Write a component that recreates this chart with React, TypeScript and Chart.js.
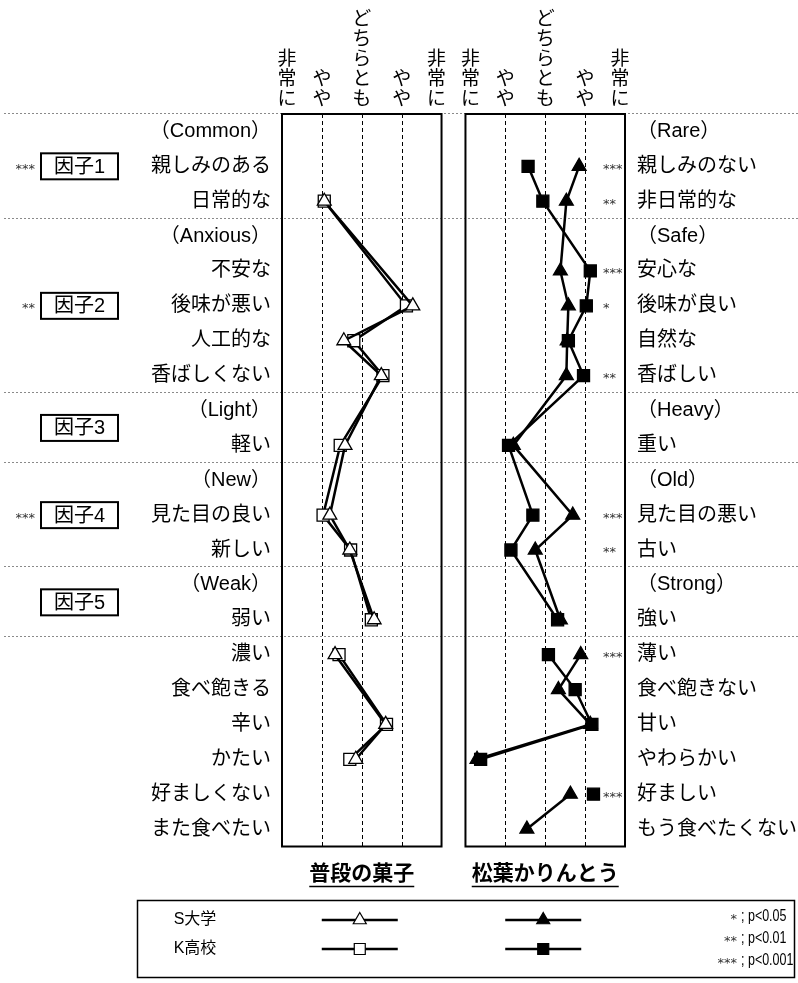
import React, { useEffect, useRef } from 'react';
import { Chart, registerables } from 'chart.js';

Chart.register(...registerables);

// ---------- data ----------
const leftLabels = [
  '（Common）', '親しみのある', '日常的な',
  '（Anxious）', '不安な', '後味が悪い', '人工的な', '香ばしくない',
  '（Light）', '軽い',
  '（New）', '見た目の良い', '新しい',
  '（Weak）', '弱い',
  '濃い', '食べ飽きる', '辛い', 'かたい', '好ましくない', 'また食べたい',
];
const rightLabels = [
  '（Rare）', '親しみのない', '非日常的な',
  '（Safe）', '安心な', '後味が良い', '自然な', '香ばしい',
  '（Heavy）', '重い',
  '（Old）', '見た目の悪い', '古い',
  '（Strong）', '強い',
  '薄い', '食べ飽きない', '甘い', 'やわらかい', '好ましい', 'もう食べたくない',
];

// 普段の菓子 (usual snacks)
const usualS = [null, null, 2.06, null, null, 4.28, 2.55, 3.49, null, 2.58, null, 2.2, 2.7, null, 3.31, 2.33, null, 3.6, 2.85, null, null];
const usualK = [null, null, 2.06, null, null, 4.12, 2.8, 3.53, null, 2.46, null, 2.03, 2.72, null, 3.24, 2.43, null, 3.62, 2.7, null, null];
// 松葉かりんとう
const matsubaS = [null, 3.85, 3.53, null, 3.38, 3.58, 3.55, 3.53, null, 2.2, null, 3.69, 2.75, null, 3.38, 3.89, 3.33, 4.13, 1.29, 3.63, 2.54];
const matsubaK = [null, 2.57, 2.94, null, 4.13, 4.03, 3.58, 3.96, null, 2.08, null, 2.69, 2.14, null, 3.31, 3.08, 3.75, 4.17, 1.38, 4.21, null];

// which rows are joined by a line
const lineBlocks = [0, 0, 0, 0, 0, 0, 0, 0, 0, 0, 0, 0, 0, 0, 0, 1, 1, 1, 1, 2, 2];
const rightSig = ['', '***', '**', '', '***', '*', '', '**', '', '', '', '***', '**', '', '', '***', '', '', '', '***', ''];

const factorNames = ['因子1', '因子2', '因子3', '因子4', '因子5'];
const factorSig = ['***', '**', '', '***', ''];
const factorRows = [1, 5, 8.5, 11, 13.5];
const separatorRows = [-0.5, 2.5, 7.5, 9.5, 12.5, 14.5];

const scalePoints = [1, 2, 3, 4, 5];
const scaleHeads = ['非常に', 'やや', 'どちらとも', 'やや', '非常に'];
const panelTitles = ['普段の菓子', '松葉かりんとう'];
const groupNames = ['S大学', 'K高校'];
const pStars = ['*', '**', '***'];
const pTexts = ['; p<0.05', '; p<0.01', '; p<0.001'];

// ---------- layout ----------
const W = 798;
const H = 983;
const FONT = "'Liberation Sans', 'Noto Sans CJK JP', sans-serif";
const PANEL_GAP = 0.6;

function drawStars(ctx: CanvasRenderingContext2D, s: string, x: number, y: number, align: CanvasTextAlign) {
  ctx.save();
  ctx.font = "13px 'DejaVu Sans', sans-serif";
  ctx.fillStyle = '#333';
  ctx.textAlign = align;
  ctx.textBaseline = 'middle';
  ctx.fillText(s, x, y + 3);
  ctx.restore();
}

function drawMarker(ctx: CanvasRenderingContext2D, kind: 'tri' | 'sq', x: number, y: number, filled: boolean) {
  ctx.save();
  ctx.beginPath();
  if (kind === 'tri') {
    const r = 7.5;
    ctx.moveTo(x, y - r);
    ctx.lineTo(x + r * 0.866, y + r * 0.5);
    ctx.lineTo(x - r * 0.866, y + r * 0.5);
    ctx.closePath();
  } else {
    ctx.rect(x - 5.5, y - 5.5, 11, 11);
  }
  ctx.fillStyle = filled ? '#000' : '#fff';
  ctx.fill();
  ctx.lineWidth = 1.2;
  ctx.strokeStyle = '#000';
  ctx.stroke();
  ctx.restore();
}

const overlay = {
  id: 'overlay',
  beforeDatasetsDraw(chart: any) {
    const ctx: CanvasRenderingContext2D = chart.ctx;
    const { top, bottom } = chart.chartArea;
    const y = chart.scales.y;
    const panels = [chart.scales.xL, chart.scales.xR];
    ctx.save();
    ctx.strokeStyle = '#8a8a8a';
    ctx.lineWidth = 1;
    ctx.setLineDash([2, 2]);
    separatorRows.forEach((r) => {
      const py = Math.round(y.getPixelForValue(r)) - 0.5;
      ctx.beginPath();
      ctx.moveTo(4, py);
      ctx.lineTo(W, py);
      ctx.stroke();
    });
    ctx.strokeStyle = '#000';
    ctx.setLineDash([4, 3]);
    panels.forEach((sc) => {
      [2, 3, 4].forEach((v) => {
        const px = Math.round(sc.getPixelForValue(v)) + 0.5;
        ctx.beginPath();
        ctx.moveTo(px, top);
        ctx.lineTo(px, bottom);
        ctx.stroke();
      });
    });
    ctx.setLineDash([]);
    ctx.lineWidth = 2;
    panels.forEach((sc) => {
      const a = sc.getPixelForValue(1);
      const b = sc.getPixelForValue(5);
      ctx.strokeRect(a, top, b - a, bottom - top);
    });
    ctx.restore();
  },
  afterDraw(chart: any) {
    const ctx: CanvasRenderingContext2D = chart.ctx;
    const y = chart.scales.y;
    const panels = [chart.scales.xL, chart.scales.xR];
    const { bottom } = chart.chartArea;
    ctx.save();
    ctx.fillStyle = '#000';
    ctx.strokeStyle = '#000';

    // vertical scale headings
    ctx.font = `19px ${FONT}`;
    ctx.textAlign = 'center';
    ctx.textBaseline = 'middle';
    panels.forEach((sc) => {
      scalePoints.forEach((v, i) => {
        const px = sc.getPixelForValue(v) + (i === 0 ? 5 : i === scalePoints.length - 1 ? -5 : 0);
        const chars = Array.from(scaleHeads[i]);
        chars.forEach((c, k) => {
          ctx.fillText(c, px, 100 - (chars.length - 1 - k) * 20);
        });
      });
    });

    // factor boxes
    factorRows.forEach((r, i) => {
      const py = y.getPixelForValue(r);
      ctx.lineWidth = 2;
      ctx.strokeRect(41, py - 13, 77, 26);
      ctx.font = `20px ${FONT}`;
      ctx.textAlign = 'center';
      ctx.fillText(factorNames[i], 79.5, py + 1);
      if (factorSig[i]) drawStars(ctx, factorSig[i], 35, py, 'right');
    });

    // significance inside right panel
    rightSig.forEach((s, r) => {
      if (s) drawStars(ctx, s, 603, y.getPixelForValue(r), 'left');
    });

    // panel titles
    ctx.font = `bold 21px ${FONT}`;
    ctx.textAlign = 'center';
    panels.forEach((sc, i) => {
      const cx = sc.getPixelForValue(3);
      const ty = bottom + 28;
      ctx.fillText(panelTitles[i], cx, ty);
      const w = ctx.measureText(panelTitles[i]).width;
      ctx.lineWidth = 1.5;
      ctx.beginPath();
      ctx.moveTo(cx - w / 2, ty + 12);
      ctx.lineTo(cx + w / 2, ty + 12);
      ctx.stroke();
    });

    // legend box
    ctx.lineWidth = 1.5;
    ctx.strokeRect(137.5, 900.5, 657, 77);
    ctx.font = `16px ${FONT}`;
    groupNames.forEach((g, i) => {
      const ly = 920 + i * 29;
      ctx.textAlign = 'center';
      ctx.fillStyle = '#000';
      ctx.fillText(g, 195, ly);
      panels.forEach((sc, p) => {
        const cx = sc.getPixelForValue(3) - 2;
        ctx.lineWidth = 2.5;
        ctx.beginPath();
        ctx.moveTo(cx - 38, ly);
        ctx.lineTo(cx + 38, ly);
        ctx.stroke();
        drawMarker(ctx, i === 0 ? 'tri' : 'sq', cx, ly, p === 1);
      });
    });
    pStars.forEach((s, i) => {
      const ly = 917 + i * 22;
      drawStars(ctx, s, 737, ly, 'right');
      ctx.save();
      ctx.translate(741, ly);
      ctx.scale(0.78, 1);
      ctx.font = `16px ${FONT}`;
      ctx.textAlign = 'left';
      ctx.textBaseline = 'middle';
      ctx.fillStyle = '#000';
      ctx.fillText(pTexts[i], 0, 0);
      ctx.restore();
    });
    ctx.restore();
  },
};

export default function App() {
  const ref = useRef<HTMLCanvasElement | null>(null);

  useEffect(() => {
    if (!ref.current) return;
    const segColor = (ctx: any) =>
      lineBlocks[ctx.p0DataIndex] === lineBlocks[ctx.p1DataIndex] ? '#000' : 'rgba(0,0,0,0)';
    const ds = (label: string, data: (number | null)[], axis: string, kind: 'triangle' | 'rect', filled: boolean) => ({
      label,
      data,
      xAxisID: axis,
      yAxisID: 'y',
      borderColor: '#000',
      borderWidth: 2.5,
      pointStyle: kind,
      pointRadius: kind === 'triangle' ? 8 : 8.5,
      pointHoverRadius: kind === 'triangle' ? 8 : 8.5,
      pointBackgroundColor: filled ? '#000' : '#fff',
      pointBorderColor: '#000',
      pointBorderWidth: 1.3,
      spanGaps: true,
      tension: 0,
      fill: false,
      clip: false as any,
      segment: { borderColor: segColor },
    });

    const chart = new Chart(ref.current, {
      type: 'line',
      data: {
        labels: leftLabels,
        datasets: [
          ds('普段の菓子 S大学', usualS, 'xL', 'triangle', false),
          ds('普段の菓子 K高校', usualK, 'xL', 'rect', false),
          ds('松葉かりんとう S大学', matsubaS, 'xR', 'triangle', true),
          ds('松葉かりんとう K高校', matsubaK, 'xR', 'rect', true),
        ] as any,
      },
      options: {
        indexAxis: 'y',
        responsive: false,
        animation: false,
        events: [],
        layout: { padding: { top: 114, bottom: H - 846.5, left: 0, right: 0 } },
        plugins: { legend: { display: false }, tooltip: { enabled: false } },
        scales: {
          xL: {
            type: 'linear',
            axis: 'x',
            position: 'bottom',
            min: 1,
            max: 5 + PANEL_GAP + 4,
            display: false,
          },
          xR: {
            type: 'linear',
            axis: 'x',
            position: 'bottom',
            min: 1 - 4 - PANEL_GAP,
            max: 5,
            display: false,
          },
          y: {
            type: 'category',
            position: 'left',
            offset: true,
            labels: leftLabels,
            grid: { display: false, drawTicks: false },
            border: { display: false },
            ticks: { autoSkip: false, padding: 11, color: '#000', font: { family: FONT, size: 20 } },
            afterFit: (s: any) => { s.width = 282; },
          },
          y2: {
            type: 'category',
            position: 'right',
            offset: true,
            labels: rightLabels,
            grid: { display: false, drawTicks: false },
            border: { display: false },
            ticks: { autoSkip: false, padding: 12, color: '#000', font: { family: FONT, size: 20 } },
            afterFit: (s: any) => { s.width = W - 625; },
          },
        } as any,
      },
      plugins: [overlay],
    });
    return () => chart.destroy();
  }, []);

  return (
    <div style={{ position: 'absolute', left: 0, top: 0, width: W, height: H, background: '#fff' }}>
      <canvas ref={ref} width={W} height={H} style={{ display: 'block', width: W, height: H }} />
    </div>
  );
}
